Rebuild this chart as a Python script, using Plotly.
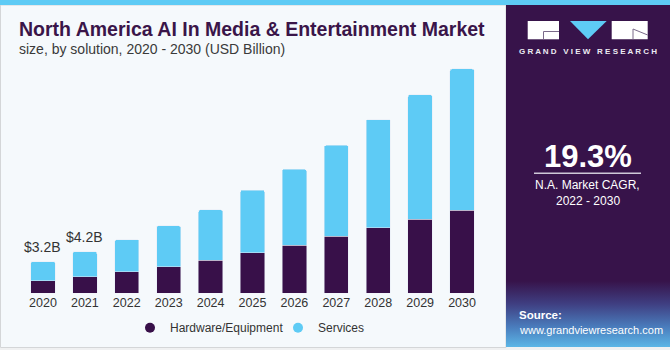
import plotly.graph_objects as go

years = ["2020", "2021", "2022", "2023", "2024", "2025", "2026", "2027", "2028", "2029", "2030"]
hardware = [1.27, 1.67, 2.18, 2.68, 3.35, 4.06, 4.83, 5.74, 6.61, 7.48, 8.39]
services = [1.93, 2.53, 3.22, 4.12, 5.05, 6.34, 7.67, 9.16, 10.89, 12.52, 14.21]
bar_labels = ["$3.2B", "$4.2B", "", "", "", "", "", "", "", "", ""]

W, H = 670, 350
DARK = "#381049"
BLUE = "#5ecbf5"
PANEL = "#37134a"
BG = "#f5f9fc"


def px(x):
    return x / W


def py(y):
    return 1 - y / H


fig = go.Figure()

fig.add_trace(go.Bar(x=years, y=hardware, name="Hardware/Equipment", marker_color=DARK,
                     width=0.58, showlegend=False))
fig.add_trace(go.Bar(x=years, y=services, name="Services", marker_color=BLUE,
                     width=0.58, showlegend=False))
# legend entries with circle markers
fig.add_trace(go.Scatter(x=[None], y=[None], mode="markers", name="Hardware/Equipment",
                         marker=dict(color=DARK, size=10, symbol="circle")))
fig.add_trace(go.Scatter(x=[None], y=[None], mode="markers", name="Services",
                         marker=dict(color=BLUE, size=10, symbol="circle")))

# gradient at the bottom of the right panel (pixel coordinates on x2/y2)
fig.add_trace(go.Scatter(
    x=[506, 670, 670, 506, 506], y=[281, 281, 347, 347, 281],
    xaxis="x2", yaxis="y2", mode="lines", line=dict(width=0),
    fill="toself",
    fillgradient=dict(type="vertical", start=281, stop=347,
                      colorscale=[[0, PANEL], [0.35, "#3f3f82"], [0.7, "#4a7dbd"], [1, "#5cb6e6"]]),
    showlegend=False, hoverinfo="skip"))

totals = [h + s for h, s in zip(hardware, services)]
annotations = []
for i, (lab, t) in enumerate(zip(bar_labels, totals)):
    if lab:
        annotations.append(dict(x=i, y=t, xref="x", yref="y", text=lab,
                                showarrow=False, yanchor="middle", xanchor="center", yshift=15,
                                font=dict(family="Liberation Sans", size=14, color="#333333")))

annotations += [
    dict(x=px(17), y=py(29), xref="paper", yref="paper", xanchor="left", yanchor="middle",
         text="<b>North America AI In Media &amp; Entertainment Market</b>", showarrow=False,
         font=dict(family="Liberation Sans", size=19.5, color="#3a1549")),
    dict(x=px(17), y=py(49), xref="paper", yref="paper", xanchor="left", yanchor="middle",
         text="size, by solution, 2020 - 2030 (USD Billion)", showarrow=False,
         font=dict(family="Liberation Sans", size=14, color="#3a3a3a")),
    dict(x=px(587.5), y=py(51.7), xref="paper", yref="paper", xanchor="center", yanchor="middle",
         text="<b>G R A N D   V I E W   R E S E A R C H</b>", showarrow=False,
         font=dict(family="Liberation Sans", size=8, color="#ecebf2")),
    dict(x=px(587.5), y=py(156), xref="paper", yref="paper", xanchor="center", yanchor="middle",
         text="<b>19.3%</b>", showarrow=False,
         font=dict(family="Liberation Sans", size=31, color="#ffffff")),
    dict(x=px(587.5), y=py(185), xref="paper", yref="paper", xanchor="center", yanchor="middle",
         text="N.A. Market CAGR,", showarrow=False,
         font=dict(family="Liberation Sans", size=12, color="#ffffff")),
    dict(x=px(587.5), y=py(201), xref="paper", yref="paper", xanchor="center", yanchor="middle",
         text="2022 - 2030", showarrow=False,
         font=dict(family="Liberation Sans", size=12, color="#ffffff")),
    dict(x=px(517), y=py(315), xref="paper", yref="paper", xanchor="left", yanchor="middle",
         text="<b>Source:</b>", showarrow=False,
         font=dict(family="Liberation Sans", size=11.5, color="#ffffff")),
    dict(x=px(517), y=py(330), xref="paper", yref="paper", xanchor="left", yanchor="middle",
         text="www.grandviewresearch.com", showarrow=False,
         font=dict(family="Liberation Sans", size=11, color="#ffffff")),
]

shapes = [
    # left panel
    dict(type="rect", xref="paper", yref="paper", x0=px(0.5), x1=px(506), y0=py(5), y1=py(347.5),
         fillcolor=BG, line=dict(color="#d4d6d8", width=1), layer="below"),
    # right panel
    dict(type="rect", xref="paper", yref="paper", x0=px(506), x1=px(670), y0=py(5), y1=py(347),
         fillcolor=PANEL, line=dict(width=0), layer="below"),
    # top stripe
    dict(type="rect", xref="paper", yref="paper", x0=0, x1=1, y0=py(0), y1=py(5),
         fillcolor=BLUE, line=dict(width=0), layer="below"),
    # logo
    dict(type="rect", xref="paper", yref="paper", x0=px(527.7), x1=px(559), y0=py(21), y1=py(39.3),
         fillcolor="#ffffff", line=dict(width=0), layer="above"),
    dict(type="path", xref="paper", yref="paper",
         path=f"M {px(570)},{py(21)} L {px(606.7)},{py(21)} L {px(588)},{py(39.3)} Z",
         fillcolor=BLUE, line=dict(width=0), layer="above"),
    dict(type="rect", xref="paper", yref="paper", x0=px(611.7), x1=px(647.7), y0=py(21), y1=py(39.3),
         fillcolor="#ffffff", line=dict(width=0), layer="above"),
    dict(type="path", xref="paper", yref="paper",
         path=f"M {px(559)},{py(31.5)} L {px(543.5)},{py(31.5)} L {px(543.5)},{py(39.3)}",
         line=dict(color="#7a6a8a", width=1), layer="above"),
    dict(type="path", xref="paper", yref="paper",
         path=f"M {px(633)},{py(39.3)} L {px(633)},{py(29)} L {px(647.7)},{py(35)}",
         line=dict(color="#7a6a8a", width=1), layer="above"),
    # line under CAGR
    dict(type="line", xref="paper", yref="paper", x0=px(534), x1=px(641), y0=py(173.3), y1=py(173.3),
         line=dict(color="#cfc8d8", width=1.5), layer="above"),
]

fig.update_layout(
    width=W, height=H,
    margin=dict(l=0, r=0, t=0, b=0),
    paper_bgcolor="#f0f1f2",
    plot_bgcolor="rgba(0,0,0,0)",
    barmode="stack",
    barcornerradius=2,
    bargap=0.42,
    font=dict(family="Liberation Sans", color="#333333"),
    xaxis=dict(domain=[px(22), px(483)], showgrid=False, zeroline=False, showline=False,
               ticks="", tickfont=dict(family="Liberation Sans", size=12.5, color="#333333"),
               fixedrange=True, type="category", range=[-0.5, 10.5]),
    yaxis=dict(domain=[py(293.3), py(60)], range=[0, 23.5], visible=False, fixedrange=True),
    xaxis2=dict(domain=[0, 1], range=[0, W], visible=False, anchor="y2", fixedrange=True),
    yaxis2=dict(domain=[0, 1], range=[H, 0], visible=False, anchor="x2", fixedrange=True),
    legend=dict(orientation="h", x=px(130), y=py(327.7), xanchor="left", yanchor="middle",
                bgcolor="rgba(0,0,0,0)", entrywidth=103, traceorder="normal",
                font=dict(family="Liberation Sans", size=12, color="#333333")),
    annotations=annotations,
    shapes=shapes,
    showlegend=True,
)

fig.write_html("out.html")
